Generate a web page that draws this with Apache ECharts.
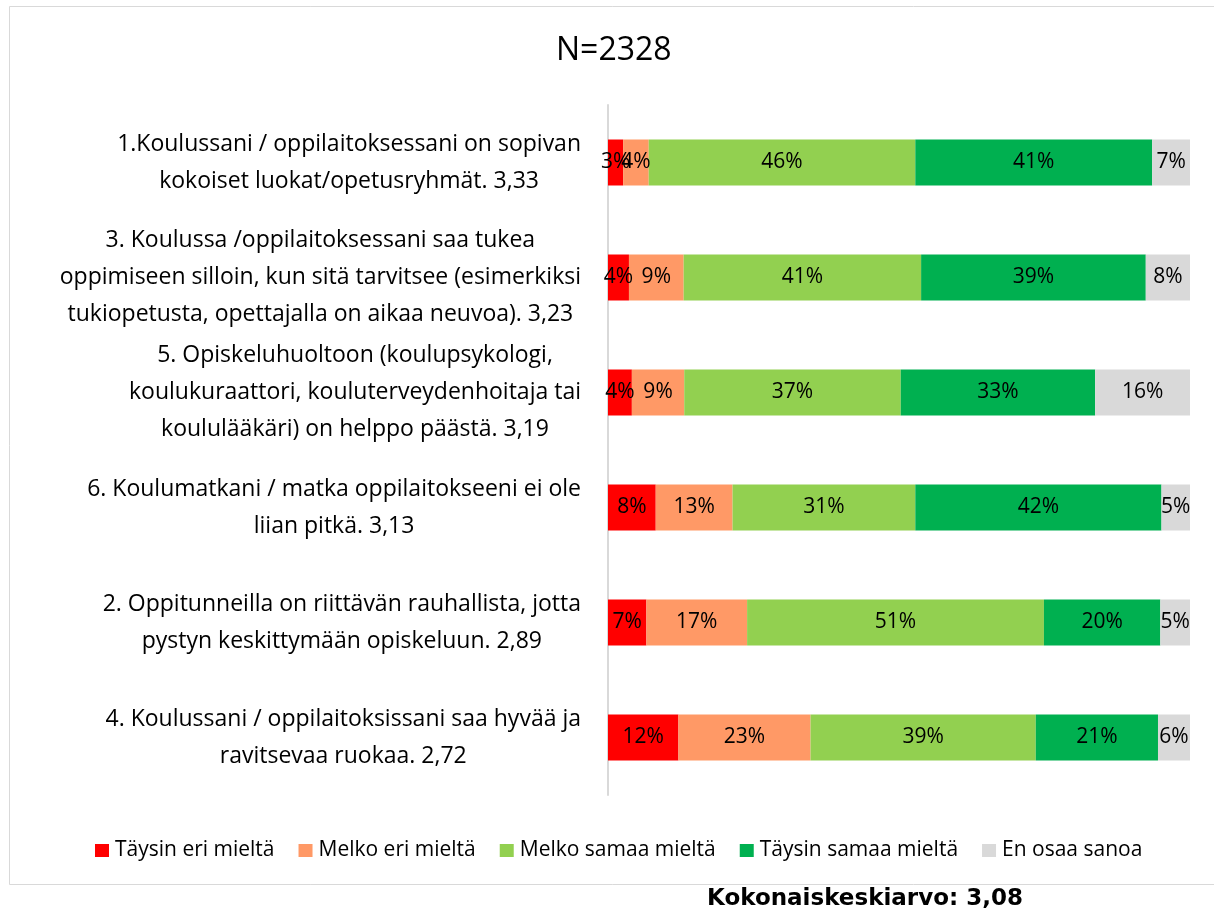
<!DOCTYPE html>
<html>
<head>
<meta charset="utf-8">
<script src="https://cdn.jsdelivr.net/npm/echarts@6/dist/echarts.min.js"></script>
<style>
html, body { margin: 0; padding: 0; background: #fff; }
#chart { width: 1214px; height: 918px; }
</style>
</head>
<body>
<div id="chart"></div>
<script>
var questions = [
    '1.Koulussani / oppilaitoksessani on sopivan\nkokoiset luokat/opetusryhmät. 3,33',
    '3. Koulussa /oppilaitoksessani saa tukea\noppimiseen silloin, kun sitä tarvitsee (esimerkiksi\ntukiopetusta, opettajalla on aikaa neuvoa). 3,23',
    '5. Opiskeluhuoltoon (koulupsykologi,\nkoulukuraattori, kouluterveydenhoitaja tai\nkoululääkäri) on helppo päästä. 3,19',
    '6. Koulumatkani / matka oppilaitokseeni ei ole\nliian pitkä. 3,13',
    '2. Oppitunneilla on riittävän rauhallista, jotta\npystyn keskittymään opiskeluun. 2,89',
    '4. Koulussani / oppilaitoksissani saa hyvää ja\nravitsevaa ruokaa. 2,72'
];
var answers = ['Täysin eri mieltä', 'Melko eri mieltä', 'Melko samaa mieltä', 'Täysin samaa mieltä', 'En osaa sanoa'];
var colors = ['#FF0000', '#FF9966', '#92D050', '#00B050', '#D9D9D9'];

// shares in %, one array per answer, rows in question order
var taysinEri   = [2.6, 3.6, 4.1, 8.2, 6.6, 12.1];
var melkoEri    = [4.4, 9.4, 9.0, 13.2, 17.3, 22.7];
var melkoSamaa  = [45.8, 40.8, 37.2, 31.4, 51.0, 38.7];
var taysinSamaa = [40.7, 38.6, 33.4, 42.3, 20.0, 21.0];
var enOsaa      = [6.5, 7.6, 16.3, 4.9, 5.1, 5.5];
var values = [taysinEri, melkoEri, melkoSamaa, taysinSamaa, enOsaa];

var title = 'N=2328';
var footer = 'Kokonaiskeskiarvo: 3,08';

var font = 'Open Sans';

var chart = echarts.init(document.getElementById('chart'));

var series = answers.map(function (name, i) {
    return {
        name: name,
        type: 'bar',
        stack: 'all',
        barWidth: 46,
        data: values[i],
        itemStyle: { color: colors[i] },
        label: {
            show: true,
            position: 'inside',
            color: '#000',
            fontFamily: font,
            fontSize: 21,
            formatter: function (p) { return Math.round(p.value) + '%'; }
        }
    };
});

chart.setOption({
    animation: false,
    backgroundColor: '#fff',
    title: {
        text: title,
        left: 551,
        top: 30,
        textStyle: { fontFamily: font, fontSize: 32, fontWeight: 'normal', color: '#000' }
    },
    legend: {
        data: answers,
        left: 90,
        top: 835,
        icon: 'rect',
        itemWidth: 14,
        itemHeight: 13,
        itemGap: 24,
        textStyle: { fontFamily: font, fontSize: 21, color: '#000', padding: [0, 0, 0, 1] }
    },
    grid: { left: 608, right: 24, top: 105, bottom: 123 },
    xAxis: {
        type: 'value',
        min: 0,
        max: 100,
        show: false
    },
    yAxis: {
        type: 'category',
        inverse: true,
        data: questions,
        axisLine: { show: true, lineStyle: { color: '#D9D9D9', width: 2 } },
        axisTick: { show: false },
        axisLabel: {
            margin: 27,
            align: 'right',
            formatter: function (v) {
                return v.split('\n').map(function (s) { return '{c|' + s + '}'; }).join('\n');
            },
            rich: {
                c: { align: 'center', fontFamily: font, fontSize: 23, lineHeight: 37, color: '#000' }
            }
        }
    },
    graphic: [
        {
            type: 'rect',
            shape: { x: 9.5, y: 6.5, width: 1220, height: 878 },
            style: { fill: null, stroke: '#D9D9D9', lineWidth: 1 },
            silent: true
        },
        {
            type: 'text',
            left: 707,
            top: 888,
            style: { text: footer, fontFamily: 'DejaVu Sans', fontWeight: 'bold', fontSize: 23, fill: '#000' }
        }
    ],
    series: series
});
</script>
</body>
</html>
